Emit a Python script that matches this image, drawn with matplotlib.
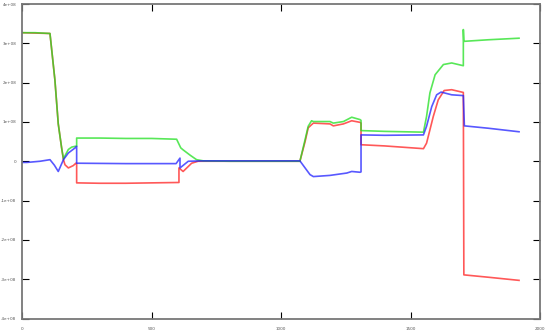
import numpy as np
from matplotlib import pyplot as plt

# series: (x, value in units of 1e8)
green = [
    (0, 3.27), (50, 3.27), (108, 3.25), (127, 2.07), (140, 0.95), (153, 0.34),
    (160, 0.06), (166, 0.14), (179, 0.30), (192, 0.36), (205, 0.38), (211, 0.38),
    (211, 0.59), (300, 0.59), (400, 0.58), (500, 0.58), (597, 0.56), (613, 0.34),
    (622, 0.29), (650, 0.15), (674, 0.04), (700, 0.01), (800, 0.0), (1000, 0.0),
    (1073, 0.0), (1093, 0.55), (1105, 0.89), (1118, 1.03), (1125, 1.01),
    (1189, 1.01), (1202, 0.97), (1241, 1.01), (1273, 1.12), (1305, 1.06),
    (1309, 1.04), (1309, 0.78), (1400, 0.76), (1550, 0.74), (1562, 1.14),
    (1575, 1.74), (1595, 2.20), (1627, 2.46), (1659, 2.50), (1704, 2.43),
    (1704, 3.35), (1706, 3.05), (1800, 3.09), (1919, 3.13),
]
red = [
    (0, 3.27), (108, 3.25), (127, 2.07), (140, 0.95), (153, 0.34), (160, 0.04),
    (166, -0.09), (179, -0.17), (198, -0.11), (208, -0.05), (211, -0.05),
    (211, -0.55), (300, -0.56), (400, -0.56), (500, -0.55), (606, -0.54),
    (606, -0.17), (622, -0.26), (655, -0.05), (680, 0.0), (800, 0.0),
    (1000, 0.0), (1073, 0.0), (1093, 0.50), (1105, 0.85), (1118, 0.93),
    (1125, 0.97), (1189, 0.95), (1202, 0.90), (1241, 0.95), (1273, 1.03),
    (1305, 0.99), (1309, 0.97), (1309, 0.42), (1400, 0.39), (1550, 0.32),
    (1562, 0.46), (1588, 1.14), (1607, 1.56), (1630, 1.80), (1659, 1.82),
    (1704, 1.75), (1706, -2.89), (1800, -2.95), (1919, -3.03),
]
blue = [
    (0, -0.03), (19, -0.03), (70, 0.0), (108, 0.04), (125, -0.10), (140, -0.26),
    (160, 0.04), (179, 0.21), (205, 0.34), (211, 0.38), (211, -0.05),
    (400, -0.06), (595, -0.06), (610, 0.08), (610, -0.17), (642, 0.0),
    (700, 0.01), (1073, 0.01), (1093, -0.17), (1112, -0.34), (1125, -0.39),
    (1189, -0.36), (1254, -0.30), (1273, -0.26), (1305, -0.28), (1309, -0.27),
    (1309, 0.67), (1400, 0.66), (1550, 0.67), (1562, 0.89), (1582, 1.39),
    (1601, 1.69), (1618, 1.76), (1659, 1.69), (1704, 1.67), (1708, 0.90),
    (1800, 0.84), (1919, 0.75),
]

xticks = [0, 500, 1000, 1500, 2000]
yticks = [4e8, 3e8, 2e8, 1e8, 0, -1e8, -2e8, -3e8, -4e8]
ytick_labels = ["4e+08", "3e+08", "2e+08", "1e+08", "0",
                "-1e+08", "-2e+08", "-3e+08", "-4e+08"]

fig = plt.figure(figsize=(5.5, 3.35), dpi=100)
ax = fig.add_axes([22 / 550, 16.5 / 335, 518 / 550, 314.5 / 335])

for series, color in ((red, "#ff2020"), (green, "#20e020"), (blue, "#2020ff")):
    arr = np.array(series)
    ax.plot(arr[:, 0], arr[:, 1] * 1e8, color=color, lw=1.2, alpha=0.75)

ax.set_xlim(0, 2000)
ax.set_ylim(-4e8, 4e8)
ax.set_xticks(xticks)
ax.set_xticklabels([str(t) for t in xticks])
ax.set_yticks(yticks)
ax.set_yticklabels(ytick_labels)

ax.tick_params(direction="in", length=5, width=0.8, color="black",
               labelsize=3, labelcolor="#555555",
               top=True, right=True)
ax.tick_params(axis="y", pad=4)
ax.tick_params(axis="x", pad=6)
for spine in ax.spines.values():
    spine.set_color("#777777")
    spine.set_linewidth(1.3)

fig.savefig("out.png", dpi=100)
